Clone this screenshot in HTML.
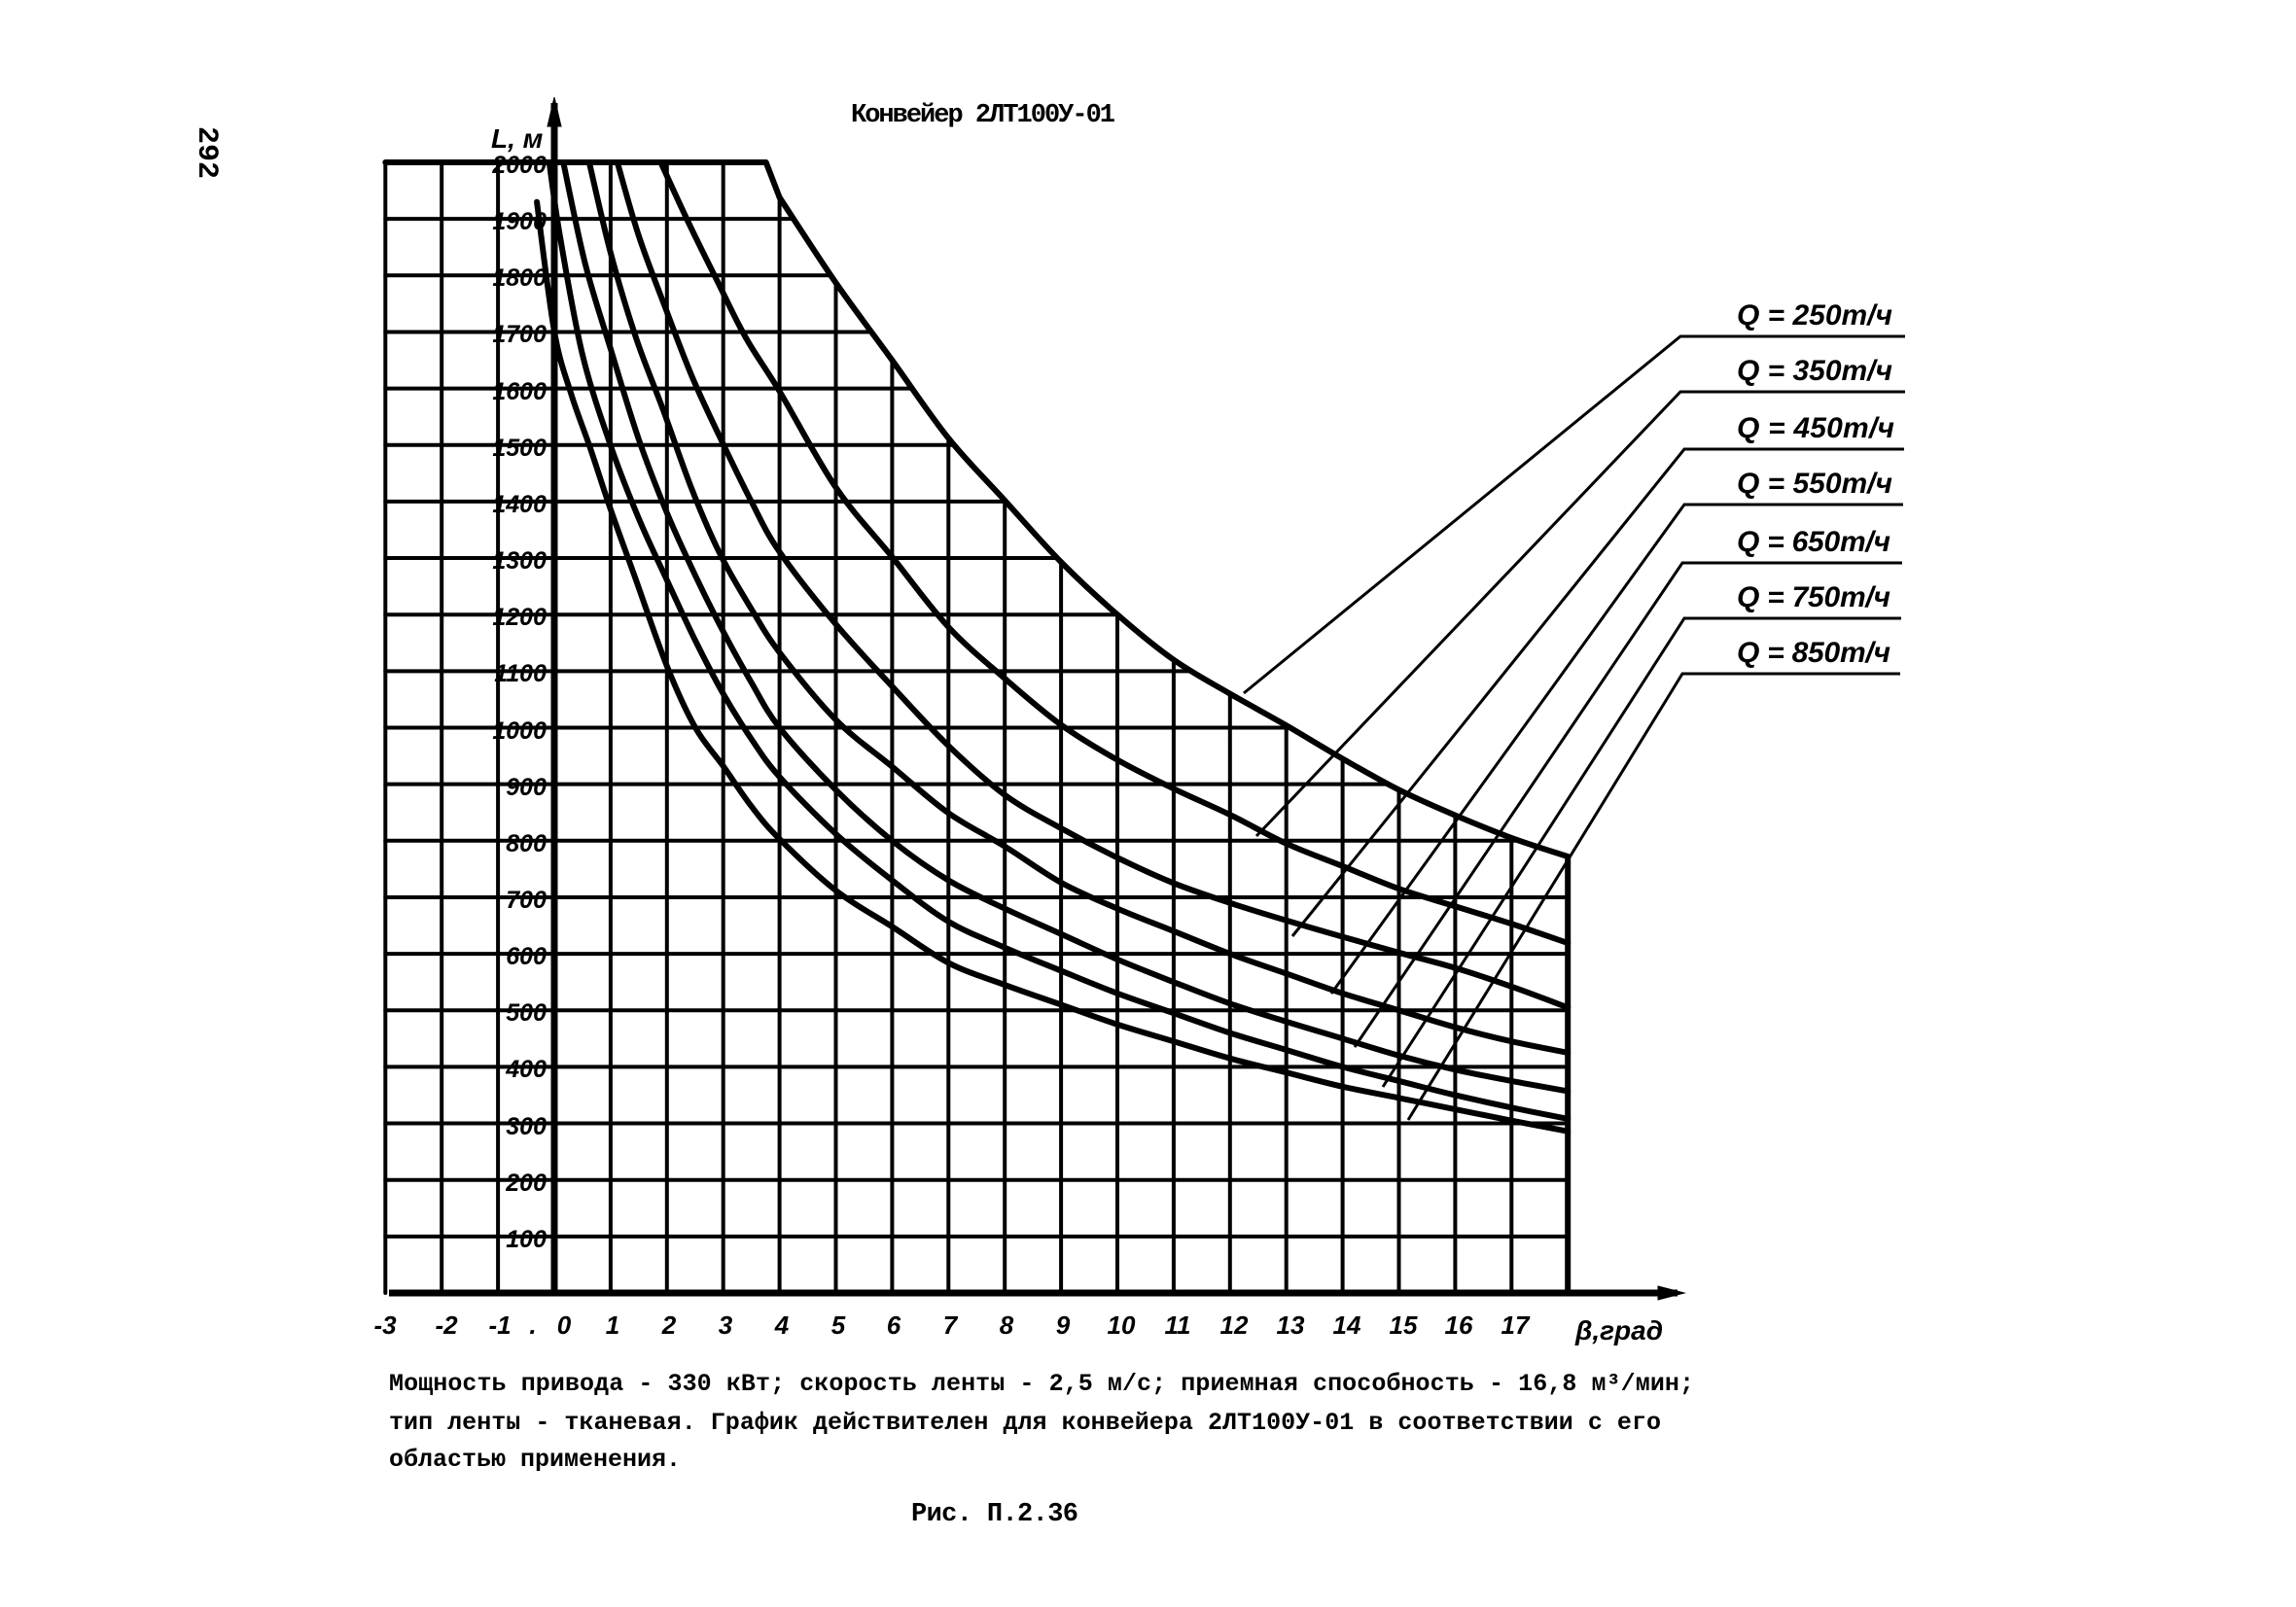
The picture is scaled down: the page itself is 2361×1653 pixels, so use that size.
<!DOCTYPE html>
<html><head><meta charset="utf-8"><style>
html,body{margin:0;padding:0;background:#fff;}
svg{display:block}
.t{font-family:"Liberation Sans",sans-serif;font-weight:bold;font-style:italic;fill:#000}
.m{font-family:"Liberation Mono","DejaVu Sans Mono",monospace;font-weight:bold;fill:#000}
</style></head><body>
<svg width="2361" height="1653" viewBox="0 0 2361 1653" xmlns="http://www.w3.org/2000/svg">
<rect width="2361" height="1653" fill="#fff"/>
<defs>
<clipPath id="cl" clipPathUnits="userSpaceOnUse">
<path d="M -4 2000 L 3.76 2000 L 4 1938 L 5 1787 L 6 1650 L 7 1512 L 8 1402 L 9 1293 L 10 1200 L 11 1120 L 12 1060 L 13 1004 L 14 945 L 15 890 L 16 845 L 17 805 L 18 772 L 18.1 772 L 18.1 -5 L -4 -5 Z"/>
</clipPath>
</defs>
<g transform="translate(570,1330) scale(57.9,-0.5815)" fill="none" stroke="#000" stroke-linejoin="round" stroke-linecap="round">
<g clip-path="url(#cl)" stroke-width="4">
<path vector-effect="non-scaling-stroke" d="M -3 0 V 2000 M -2 0 V 2000 M -1 0 V 2000 M 1 0 V 2000 M 2 0 V 2000 M 3 0 V 2000 M 4 0 V 2000 M 5 0 V 2000 M 6 0 V 2000 M 7 0 V 2000 M 8 0 V 2000 M 9 0 V 2000 M 10 0 V 2000 M 11 0 V 2000 M 12 0 V 2000 M 13 0 V 2000 M 14 0 V 2000 M 15 0 V 2000 M 16 0 V 2000 M 17 0 V 2000 M 18 0 V 2000"/>
<path vector-effect="non-scaling-stroke" d="M -3 100 H 18 M -3 200 H 18 M -3 300 H 18 M -3 400 H 18 M -3 500 H 18 M -3 600 H 18 M -3 700 H 18 M -3 800 H 18 M -3 900 H 18 M -3 1000 H 18 M -3 1100 H 18 M -3 1200 H 18 M -3 1300 H 18 M -3 1400 H 18 M -3 1500 H 18 M -3 1600 H 18 M -3 1700 H 18 M -3 1800 H 18 M -3 1900 H 18"/>
</g>
<path vector-effect="non-scaling-stroke" stroke-width="6" d="M -3 2000 L 3.76 2000 L 4 1938"/>
<path class="sm" vector-effect="non-scaling-stroke" stroke-width="6" d="M 4 1938 L 5 1787 L 6 1650 L 7 1512 L 8 1402 L 9 1293 L 10 1200 L 11 1120 L 12 1060 L 13 1004 L 14 945 L 15 890 L 16 845 L 17 805 L 18 772"/>
<path vector-effect="non-scaling-stroke" stroke-width="6" d="M 18 772 L 18 0"/>
<path class="sm" vector-effect="non-scaling-stroke" stroke-width="6" d="M 1.89 2000 L 2.4 1890 L 2.89 1791 L 3.4 1690 L 4 1595 L 5 1425 L 6 1302 L 7 1178 L 8 1087 L 9 1005 L 10 943 L 11 892 L 12 846 L 13 795 L 14 755 L 15 715 L 16 684 L 17 653 L 18 619"/>
<path class="sm" vector-effect="non-scaling-stroke" stroke-width="6" d="M 1.12 2000 L 1.5 1870 L 1.96 1746 L 2.45 1620 L 2.95 1512 L 3.5 1400 L 4 1311 L 5 1183 L 6 1073 L 7 968 L 8 881 L 9 822 L 10 770 L 11 725 L 12 690 L 13 659 L 14 630 L 15 602 L 16 575 L 17 542 L 18 505"/>
<path class="sm" vector-effect="non-scaling-stroke" stroke-width="6" d="M 0.62 2000 L 1 1840 L 1.45 1690 L 1.93 1563 L 2.45 1420 L 2.95 1306 L 3.5 1210 L 4 1133 L 5 1014 L 6 931 L 7 849 L 8 790 L 9 726 L 10 680 L 11 640 L 12 600 L 13 565 L 14 530 L 15 500 L 16 470 L 17 445 L 18 425"/>
<path class="sm" vector-effect="non-scaling-stroke" stroke-width="6" d="M 0.16 2000 L 0.55 1820 L 1 1670 L 1.5 1510 L 2 1380 L 2.5 1270 L 3 1170 L 3.5 1080 L 4 1000 L 5 890 L 6 800 L 7 730 L 8 680 L 9 635 L 10 590 L 11 550 L 12 512 L 13 480 L 14 450 L 15 420 L 16 395 L 17 375 L 18 357"/>
<path class="sm" vector-effect="non-scaling-stroke" stroke-width="6" d="M -0.09 2000 L 0.1 1870 L 0.5 1660 L 1 1499 L 1.5 1370 L 2 1261 L 2.5 1155 L 3 1060 L 3.5 980 L 4 913 L 5 812 L 6 730 L 7 657 L 8 611 L 9 570 L 10 530 L 11 495 L 12 460 L 13 430 L 14 400 L 15 375 L 16 350 L 17 328 L 18 308"/>
<path class="sm" vector-effect="non-scaling-stroke" stroke-width="6" d="M -0.31 1930 L 0 1701 L 0.3 1590 L 0.64 1494 L 1 1386 L 1.43 1267 L 2 1109 L 2.5 1001 L 3 932 L 3.5 861 L 4 803 L 5 712 L 6 648 L 7 584 L 8 545 L 9 510 L 10 475 L 11 445 L 12 415 L 13 390 L 14 365 L 15 345 L 16 325 L 17 305 L 18 286"/>
</g>
<g stroke="#000" fill="none">
<line x1="570" y1="106" x2="570" y2="1332" stroke-width="7"/>
<line x1="400" y1="1330" x2="1725" y2="1330" stroke-width="7"/>
<path d="M570 100 L563 130 L577 130 Z" fill="#000"/>
<path d="M1732 1330 L1705 1323 L1705 1337 Z" fill="#000"/>
</g>
<g class="t" font-size="25" text-anchor="end">
<text x="562" y="178">2000</text>
<text x="562" y="236">1900</text>
<text x="562" y="294">1800</text>
<text x="562" y="352">1700</text>
<text x="562" y="411">1600</text>
<text x="562" y="469">1500</text>
<text x="562" y="527">1400</text>
<text x="562" y="585">1300</text>
<text x="562" y="643">1200</text>
<text x="562" y="701">1100</text>
<text x="562" y="760">1000</text>
<text x="562" y="818">900</text>
<text x="562" y="876">800</text>
<text x="562" y="934">700</text>
<text x="562" y="992">600</text>
<text x="562" y="1050">500</text>
<text x="562" y="1108">400</text>
<text x="562" y="1167">300</text>
<text x="562" y="1225">200</text>
<text x="562" y="1283">100</text>
</g>
<text class="t" x="505" y="152" font-size="28">L, м</text>
<g class="t" font-size="26" text-anchor="middle">
<text x="396" y="1372">-3</text><text x="459" y="1372">-2</text><text x="514" y="1372">-1</text>
<text x="548" y="1372">.</text><text x="580" y="1372">0</text>
<text x="630" y="1372">1</text><text x="688" y="1372">2</text><text x="746" y="1372">3</text>
<text x="804" y="1372">4</text><text x="862" y="1372">5</text><text x="919" y="1372">6</text>
<text x="977" y="1372">7</text><text x="1035" y="1372">8</text><text x="1093" y="1372">9</text>
<text x="1153" y="1372">10</text><text x="1211" y="1372">11</text><text x="1269" y="1372">12</text>
<text x="1327" y="1372">13</text><text x="1385" y="1372">14</text><text x="1443" y="1372">15</text>
<text x="1500" y="1372">16</text><text x="1558" y="1372">17</text>
<text x="1665" y="1378" font-size="28">β,град</text>
</g>
<g stroke="#000" stroke-width="3" fill="none">
<path d="M1959 346 H1728 L1279 713"/>
<path d="M1959 403 H1728 L1292 860"/>
<path d="M1958 462 H1732 L1329 963"/>
<path d="M1957 519 H1732 L1369 1022"/>
<path d="M1956 579 H1730 L1393 1077"/>
<path d="M1955 636 H1732 L1422 1118"/>
<path d="M1954 693 H1730 L1448 1152"/>
</g>
<g class="t" font-size="30">
<text x="1786" y="334" textLength="160">Q = 250т/ч</text>
<text x="1786" y="391" textLength="160">Q = 350т/ч</text>
<text x="1786" y="450" textLength="162">Q = 450т/ч</text>
<text x="1786" y="507" textLength="160">Q = 550т/ч</text>
<text x="1786" y="567" textLength="158">Q = 650т/ч</text>
<text x="1786" y="624" textLength="158">Q = 750т/ч</text>
<text x="1786" y="681" textLength="158">Q = 850т/ч</text>
</g>
<text class="m" x="875" y="125" font-size="27" textLength="272">Конвейер 2ЛТ100У-01</text>
<text class="m" x="205" y="130" font-size="30" transform="rotate(90 205 130)">292</text>
<g class="m" font-size="25">
<text x="400" y="1430" textLength="1342">Мощность привода - 330 кВт; скорость ленты - 2,5 м/с; приемная способность - 16,8 м³/мин;</text>
<text x="400" y="1470" textLength="1308">тип ленты - тканевая. График действителен для конвейера 2ЛТ100У-01 в соответствии с его</text>
<text x="400" y="1508" textLength="300">областью применения.</text>
<text x="937" y="1564" textLength="172" font-size="27">Рис. П.2.36</text>
</g>
</svg>
<script>
document.querySelectorAll('path.sm').forEach(function(p){
  var n=p.getAttribute('d').match(/-?[\d.]+/g).map(Number),pts=[];
  for(var i=0;i<n.length;i+=2)pts.push([n[i],n[i+1]]);
  var d='M '+pts[0][0]+' '+pts[0][1];
  for(var i=0;i<pts.length-1;i++){
    var p0=pts[i-1]||pts[i],p1=pts[i],p2=pts[i+1],p3=pts[i+2]||p2;
    var c1=[p1[0]+(p2[0]-p0[0])/6,p1[1]+(p2[1]-p0[1])/6];
    var c2=[p2[0]-(p3[0]-p1[0])/6,p2[1]-(p3[1]-p1[1])/6];
    d+=' C '+c1[0]+' '+c1[1]+' '+c2[0]+' '+c2[1]+' '+p2[0]+' '+p2[1];
  }
  p.setAttribute('d',d);
});
</script>
</body></html>
